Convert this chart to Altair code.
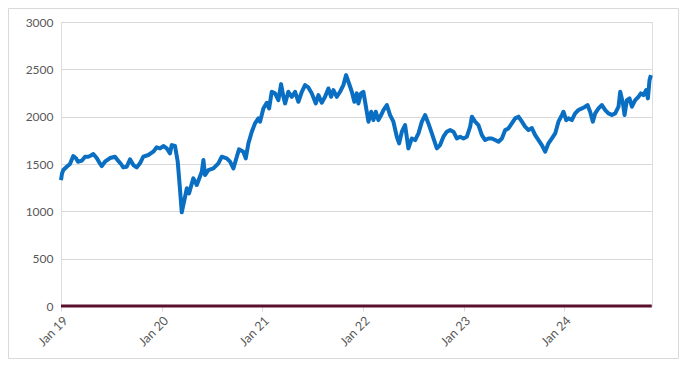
import altair as alt
import pandas as pd
import numpy as np

# time offsets in years since 1 Jan 2019, and index values
t_years = [
    0.000, 0.010, 0.023, 0.057, 0.089, 0.122, 0.149, 0.169, 0.206, 0.239,
    0.271, 0.298, 0.321, 0.355, 0.378, 0.405, 0.437, 0.487, 0.537, 0.567,
    0.596, 0.619, 0.653, 0.686, 0.719, 0.752, 0.785, 0.818, 0.868, 0.917,
    0.951, 0.984, 1.017, 1.051, 1.083, 1.100, 1.133, 1.160, 1.183, 1.200,
    1.226, 1.250, 1.272, 1.315, 1.349, 1.399, 1.415, 1.431, 1.464, 1.514,
    1.564, 1.597, 1.647, 1.680, 1.713, 1.747, 1.769, 1.812, 1.836, 1.862,
    1.896, 1.928, 1.961, 1.978, 2.011, 2.045, 2.068, 2.094, 2.127, 2.160,
    2.187, 2.210, 2.227, 2.259, 2.293, 2.326, 2.359, 2.393, 2.425, 2.458,
    2.492, 2.532, 2.558, 2.591, 2.624, 2.657, 2.684, 2.707, 2.741, 2.773,
    2.806, 2.833, 2.856, 2.890, 2.915, 2.939, 2.955, 2.982, 3.005, 3.022,
    3.055, 3.082, 3.104, 3.128, 3.154, 3.181, 3.204, 3.238, 3.270, 3.303,
    3.337, 3.360, 3.387, 3.419, 3.452, 3.486, 3.519, 3.552, 3.586, 3.618,
    3.651, 3.685, 3.718, 3.735, 3.767, 3.800, 3.834, 3.867, 3.900, 3.933,
    3.966, 3.999, 4.033, 4.066, 4.083, 4.115, 4.148, 4.182, 4.215, 4.247,
    4.281, 4.314, 4.347, 4.381, 4.414, 4.446, 4.480, 4.513, 4.546, 4.580,
    4.612, 4.645, 4.679, 4.712, 4.745, 4.778, 4.811, 4.844, 4.878, 4.911,
    4.943, 4.977, 4.993, 5.020, 5.043, 5.076, 5.109, 5.142, 5.176, 5.209,
    5.232, 5.258, 5.285, 5.308, 5.341, 5.375, 5.408, 5.440, 5.474, 5.507,
    5.540, 5.557, 5.584, 5.600, 5.623, 5.649, 5.673, 5.706, 5.738, 5.762,
    5.788, 5.815, 5.832, 5.848, 5.862,
]
values = [
    1330, 1400, 1436, 1471, 1500, 1584, 1560, 1524, 1535, 1577,
    1577, 1590, 1605, 1563, 1520, 1478, 1524, 1563, 1577, 1535,
    1500, 1464, 1471, 1549, 1489, 1464, 1507, 1577, 1595, 1630,
    1676, 1665, 1690, 1665, 1612, 1700, 1690, 1524, 1225, 990,
    1119, 1243, 1190, 1348, 1278, 1418, 1542, 1383, 1436, 1453,
    1507, 1577, 1560, 1524, 1453, 1577, 1655, 1630, 1560, 1718,
    1841, 1929, 1982, 1947, 2087, 2147, 2087, 2263, 2246, 2175,
    2344, 2210, 2140, 2263, 2210, 2263, 2157, 2263, 2333, 2309,
    2246, 2140, 2228, 2147, 2210, 2298, 2210, 2281, 2210, 2263,
    2333, 2439, 2369, 2263, 2157, 2246, 2140, 2246, 2263, 2157,
    1947, 2052, 1964, 2052, 1964, 2017, 2070, 2123, 2017, 1947,
    1788, 1718, 1841, 1911, 1665, 1770, 1753, 1823, 1947, 2017,
    1929, 1823, 1718, 1665, 1700, 1788, 1841, 1858, 1841, 1770,
    1788, 1770, 1788, 1894, 2000, 1947, 1911, 1806, 1753, 1770,
    1770, 1753, 1735, 1770, 1858, 1876, 1929, 1982, 2000, 1947,
    1894, 1858, 1880, 1806, 1753, 1700, 1630, 1718, 1770, 1823,
    1947, 2017, 2052, 1964, 1982, 1964, 2035, 2070, 2087, 2105,
    2123, 2052, 1947, 2035, 2087, 2123, 2070, 2035, 2017, 2035,
    2105, 2263, 2140, 2017, 2175, 2193, 2105, 2175, 2210, 2246,
    2228, 2281, 2193, 2386, 2439,
]
zero_dates = ["2019-01-01", "2024-11-14"]
zero_values = [0, 0]
tick_years = [2019, 2020, 2021, 2022, 2023, 2024]
y_ticks = [0, 500, 1000, 1500, 2000, 2500, 3000]

start = pd.Timestamp("2019-01-01")
dates = start + pd.to_timedelta(np.array(t_years) * 365.25, unit="D")
df = pd.DataFrame({"date": dates, "value": values})
zdf = pd.DataFrame({"date": pd.to_datetime(zero_dates), "value": zero_values})

font = "Lato"
W, H = 591, 284
PL, PT, PR, PB = 53, 14, 27, 53

x_scale = alt.Scale(domain=[alt.DateTime(year=2019, month=1, date=1),
                            alt.DateTime(year=2024, month=11, date=15)])
y_scale = alt.Scale(domain=[0, 3000], nice=False)

x_axis = alt.Axis(
    values=[alt.DateTime(year=y, month=1, date=1) for y in tick_years],
    format="%b %y", labelAngle=-45, labelColor="#595959", labelFontSize=12.5,
    labelFont=font, grid=False, domain=False, ticks=True, tickColor="#d9d9d9",
    tickSize=5, labelPadding=3, title=None,
)
y_axis = alt.Axis(
    values=y_ticks, format="d", labelColor="#595959", labelFontSize=12,
    labelFont=font, grid=True, gridColor="#d9d9d9", gridWidth=1, domain=False,
    ticks=False, labelPadding=8, title=None,
)

frame = alt.Chart(pd.DataFrame({"a": [0]})).mark_rect(
    fill=None, stroke="#d9d9d9", strokeWidth=1, clip=False
).encode(
    x=alt.value(-PL + 0.5), x2=alt.value(W + PR - 0.5),
    y=alt.value(-PT + 0.5), y2=alt.value(H + PB - 0.5),
)

line = alt.Chart(df).mark_line(color="#0a6fc2", strokeWidth=4, strokeJoin="round").encode(
    x=alt.X("date:T", scale=x_scale, axis=x_axis),
    y=alt.Y("value:Q", scale=y_scale, axis=y_axis),
)

zero = alt.Chart(zdf).mark_line(color="#5a0f2a", strokeWidth=3).encode(
    x=alt.X("date:T", scale=x_scale),
    y=alt.Y("value:Q", scale=y_scale),
)

chart = alt.layer(frame, line, zero).properties(
    width=W, height=H,
    autosize=alt.AutoSizeParams(type="none"),
    padding={"left": PL, "top": PT, "right": PR, "bottom": PB},
).configure_view(stroke=None).configure(background="white")

chart.save("out.html", embed_options={"renderer": "svg", "actions": False})
